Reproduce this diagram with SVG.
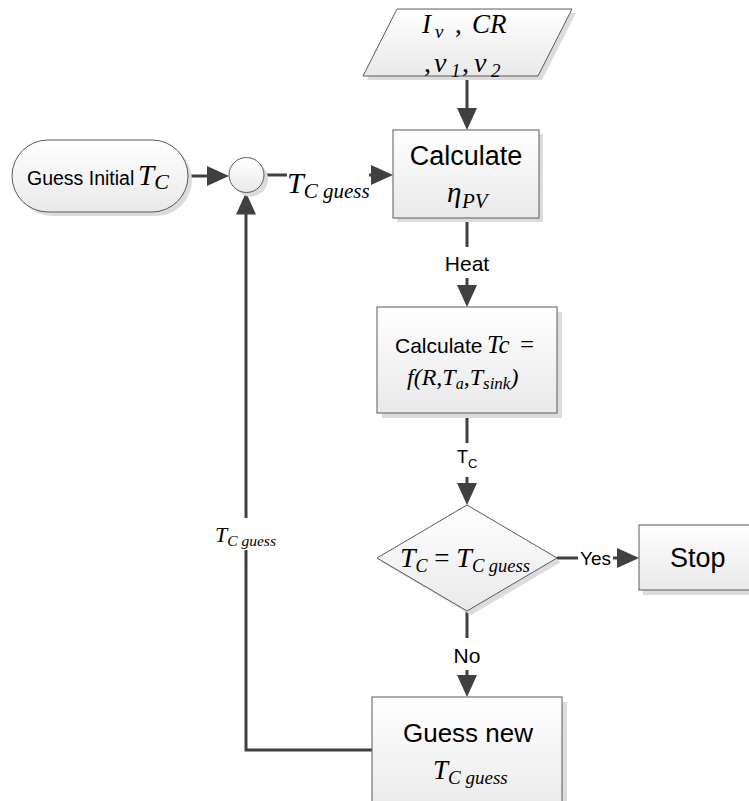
<svg xmlns="http://www.w3.org/2000/svg" width="749" height="801" viewBox="0 0 749 801">
<style>
.node{fill:url(#g);stroke:#5a5a5a;stroke-width:1}
.shadow{fill:#dcdcdc}
.edge{stroke:#404040;stroke-width:3;fill:none}
.arrow{marker-end:url(#ah)}
.sans{font-family:"Liberation Sans",Arial,sans-serif;fill:#000}
.math{font-family:"Liberation Serif","Times New Roman",serif;font-style:italic;fill:#000}
.up{font-style:normal}
</style>
<defs>
<linearGradient id="g" x1="0" y1="0" x2="0" y2="1">
<stop offset="0" stop-color="#ffffff"/>
<stop offset="1" stop-color="#e9e9e9"/>
</linearGradient>
<marker id="ah" markerUnits="userSpaceOnUse" viewBox="0 0 22 20" refX="12" refY="10" markerWidth="22" markerHeight="20" orient="auto">
<path d="M0,0 L22,10 L0,20 z" fill="#404040"/>
</marker>
</defs>

<g id="connectors">
<path class="edge arrow" d="M467,76 V120"/>
<path class="edge arrow" d="M188,176 H219"/>
<path class="edge" d="M264,175 H287"/>
<path class="edge arrow" d="M369,175 H383"/>
<path class="edge" d="M467,218 V247"/>
<path class="edge arrow" d="M467,278 V297"/>
<path class="edge" d="M467,413 V443"/>
<path class="edge arrow" d="M467,477 V495"/>
<path class="edge" d="M557,558 H578"/>
<path class="edge arrow" d="M613,558 H629"/>
<path class="edge" d="M467,611 V638"/>
<path class="edge arrow" d="M467,670 V687"/>
<path class="edge" d="M372,750 H246 V550"/>
<path class="edge arrow" d="M246,518 V202.5"/>
<text class="math"><tspan x="287" y="193" font-size="30">T</tspan><tspan font-size="21" dy="5">C guess</tspan></text>
<text class="sans" x="467" y="271" font-size="21" text-anchor="middle">Heat</text>
<text class="sans"><tspan x="457" y="463" font-size="18">T</tspan><tspan font-size="13" dy="5">C</tspan></text>
<text class="sans" x="580" y="565" font-size="19">Yes</text>
<text class="sans" x="467" y="663" font-size="21" text-anchor="middle">No</text>
<text class="math"><tspan x="215" y="542" font-size="22">T</tspan><tspan font-size="15.5" dy="4">C guess</tspan></text>
</g>

<g id="input">
<polygon class="shadow" points="401,13 576,13 542,80 367,80"/>
<polygon class="node" points="397,9 572,9 538,76 363,76"/>
<text class="math" font-size="27"><tspan x="422" y="33">I</tspan><tspan x="435" y="38" font-size="19">v</tspan><tspan x="455" y="33" class="up">,</tspan><tspan x="472" y="33">CR</tspan></text>
<text class="math" font-size="28"><tspan x="424" y="72" class="up">,</tspan><tspan x="434" y="72">v</tspan><tspan x="451" y="77" font-size="19">1</tspan><tspan x="462" y="72" class="up">,</tspan><tspan x="474" y="72">v</tspan><tspan x="491" y="77" font-size="19">2</tspan></text>
</g>

<g id="guess-initial">
<rect class="shadow" x="16" y="144" width="176" height="72" rx="36"/>
<rect class="node" x="12" y="140" width="176" height="72" rx="36"/>
<text class="sans" x="27" y="185" font-size="19.5">Guess Initial</text>
<text class="math"><tspan x="138" y="185" font-size="29">T</tspan><tspan font-size="22" dy="4">C</tspan></text>
</g>

<g id="junction">
<circle class="shadow" cx="250.5" cy="179" r="17.5"/>
<circle class="node" cx="246.5" cy="175" r="17.5"/>
</g>

<g id="calc-eta">
<rect class="shadow" x="397" y="134" width="146" height="88"/>
<rect class="node" x="393" y="130" width="146" height="88"/>
<text class="sans" x="466" y="165" font-size="27" text-anchor="middle">Calculate</text>
<text class="math"><tspan x="447" y="202" font-size="29">η</tspan><tspan x="462" y="208" font-size="21">PV</tspan></text>
</g>

<g id="calc-tc">
<rect class="shadow" x="382" y="312" width="180" height="106"/>
<rect class="node" x="377" y="307" width="180" height="106"/>
<text class="sans" x="395" y="353" font-size="21">Calculate</text>
<text class="math" font-size="25"><tspan x="487" y="353">Tc</tspan><tspan x="520" y="353" class="up">=</tspan></text>
<text class="math" font-size="24"><tspan x="407" y="385">f(R,T</tspan><tspan font-size="16" dy="4">a</tspan><tspan dy="-4">,T</tspan><tspan font-size="17" dy="4">sink</tspan><tspan dy="-4">)</tspan></text>
</g>

<g id="decision">
<polygon class="shadow" points="471,509 561,562 471,615 381,562"/>
<polygon class="node" points="467,505 557,558 467,611 377,558"/>
<text class="math"><tspan x="400" y="567" font-size="28">T</tspan><tspan font-size="18" dy="5">C</tspan><tspan font-size="27" dy="-5" class="up"> = </tspan><tspan font-size="28">T</tspan><tspan font-size="18.5" dy="5">C guess</tspan></text>
</g>

<g id="stop">
<rect class="shadow" x="643" y="530" width="120" height="65"/>
<rect class="node" x="639" y="525" width="120" height="65"/>
<text class="sans" x="670" y="567" font-size="27">Stop</text>
</g>

<g id="guess-new">
<rect class="shadow" x="377" y="702" width="190" height="120"/>
<rect class="node" x="372" y="697" width="190" height="120"/>
<text class="sans" x="468" y="742" font-size="26" text-anchor="middle">Guess new</text>
<text class="math"><tspan x="433" y="779" font-size="27">T</tspan><tspan font-size="19" dy="5">C guess</tspan></text>
</g>
</svg>
